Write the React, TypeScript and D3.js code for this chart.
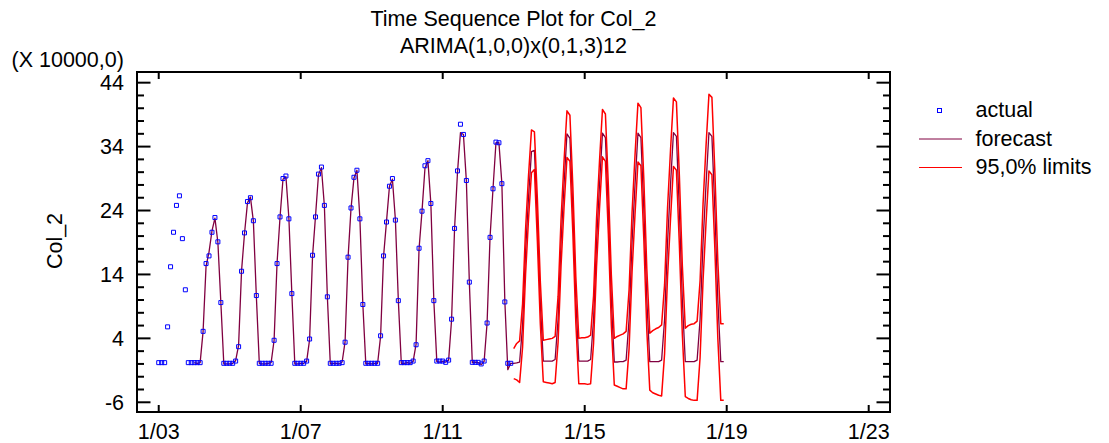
import React from 'react';
import * as d3 from 'd3';

// ---- page / frame geometry ----
const WIDTH = 1109;
const HEIGHT = 443;
const FONT = '"Liberation Sans", Arial, Helvetica, sans-serif';
const FONT_SIZE = 21.5;
const frame = { left: 137, right: 890, top: 72, bottom: 412 };

// ---- data (Col_2, monthly, in units of 10000) ----
const FIRST_YEAR = 2003;
const FITTED_START = 12; // month index of first fitted value (Jan 2004)
const FORECAST_START = 120; // month index of first forecast (Jan 2013)

// observed values, Jan 2003 - Dec 2012
const actualValues = [
  0.2, 0.2, 0.2, 5.8, 15.2, 20.6, 24.8, 26.3, 19.6, 11.6, 0.2, 0.2,
  0.2, 0.2, 0.2, 5.1, 15.7, 16.9, 20.6, 22.9, 19.1, 9.6, 0.1, 0.1,
  0.1, 0.1, 0.45, 2.7, 14.5, 20.5, 25.4, 26.0, 22.4, 10.7, 0.1, 0.1,
  0.1, 0.1, 0.1, 3.7, 15.7, 23.0, 29.0, 29.4, 22.7, 11.0, 0.1, 0.1,
  0.1, 0.1, 0.45, 3.9, 17.0, 23.0, 29.7, 30.8, 24.8, 10.5, 0.1, 0.1,
  0.1, 0.1, 0.2, 3.4, 16.7, 24.4, 29.2, 30.3, 22.7, 9.3, 0.1, 0.1,
  0.1, 0.1, 0.1, 4.4, 16.9, 22.2, 27.8, 29.0, 22.5, 9.9, 0.2, 0.2,
  0.2, 0.2, 0.45, 3.0, 18.1, 23.9, 31.0, 31.8, 25.1, 9.9, 0.45, 0.45,
  0.45, 0.25, 0.6, 7.0, 21.2, 30.2, 37.5, 35.9, 28.7, 12.8, 0.25, 0.25,
  0.25, 0.0, 0.45, 6.4, 19.8, 27.4, 34.7, 34.6, 28.2, 9.7, 0.1, 0.1,
];

// one-step-ahead fitted values, Jan 2004 - Dec 2012
const fittedValues = [
  0.2, 0.1, 0.2, 5.1, 15.3, 17.5, 20.8, 22.8, 19.0, 9.6, 0.0, 0.0,
  0.0, 0.1, 0.5, 2.9, 14.6, 20.4, 25.2, 26.1, 22.3, 10.6, 0.1, 0.0,
  0.0, 0.1, 0.2, 3.7, 15.8, 22.9, 28.9, 29.3, 22.8, 11.0, 0.0, 0.0,
  0.1, 0.1, 0.4, 3.8, 16.9, 23.1, 29.6, 30.7, 24.7, 10.6, 0.0, 0.1,
  0.1, 0.0, 0.3, 3.5, 16.6, 24.3, 29.1, 30.3, 22.8, 9.3, 0.0, 0.1,
  0.0, 0.1, 0.1, 4.3, 16.8, 22.3, 27.8, 28.9, 22.6, 9.9, 0.1, 0.1,
  0.2, 0.1, 0.4, 3.1, 18.0, 23.9, 30.6, 31.8, 25.0, 9.9, 0.4, 0.3,
  0.4, 0.3, 0.6, 6.9, 21.1, 30.0, 36.2, 35.9, 28.6, 12.8, 0.2, 0.3,
  0.2, -0.1, 0.4, 6.4, 19.8, 27.4, 34.6, 34.6, 28.2, 9.8, -0.9, 0.1,
];

// forecasts, Jan 2013 - Dec 2018
const forecastValues = [
  0.1, 0.15, 0.3, 6.0, 17.5, 26.0, 33.2, 33.4, 22.5, 9.5, 0.45, 0.45,
  0.45, 0.45, 0.7, 7.0, 19.0, 28.0, 36.0, 35.3, 24.0, 10.0, 0.45, 0.45,
  0.45, 0.45, 0.7, 7.0, 19.0, 28.0, 36.1, 35.4, 24.0, 10.0, 0.3, 0.3,
  0.35, 0.35, 0.6, 7.0, 19.0, 28.0, 36.1, 35.4, 24.0, 10.0, 0.35, 0.35,
  0.35, 0.35, 0.6, 7.0, 19.0, 28.0, 36.2, 35.6, 24.0, 10.0, 0.35, 0.35,
  0.35, 0.35, 0.6, 7.0, 19.0, 28.0, 36.2, 35.6, 24.0, 10.0, 0.35, 0.35,
];

// upper 95% limits
const upperLimits = [
  2.4, 3.2, 3.6, 9.4, 21.0, 29.4, 36.6, 36.3, 25.8, 12.8, 3.7, 3.8,
  3.9, 4.0, 4.3, 10.6, 22.6, 31.6, 39.6, 38.9, 27.6, 13.6, 4.0, 4.1,
  4.1, 4.2, 4.5, 10.7, 22.7, 31.7, 39.8, 39.1, 27.8, 13.9, 4.0, 4.3,
  4.5, 4.7, 5.1, 11.6, 23.6, 32.6, 40.8, 40.1, 28.7, 14.8, 4.8, 5.2,
  5.5, 5.7, 6.1, 12.4, 24.4, 33.4, 41.6, 41.0, 29.4, 15.4, 5.6, 6.0,
  6.2, 6.3, 6.7, 13.0, 25.0, 34.0, 42.2, 41.7, 30.0, 16.0, 6.3, 6.3,
];

// lower 95% limits
const lowerLimits = [
  -2.3, -2.5, -2.9, 2.6, 14.0, 22.6, 29.9, 30.4, 19.2, 6.2, -2.8, -2.9,
  -3.0, -3.1, -2.9, 3.4, 15.4, 24.4, 32.3, 31.7, 20.4, 6.4, -3.1, -3.1,
  -3.1, -3.2, -3.1, 3.3, 15.3, 24.3, 32.4, 31.7, 20.2, 6.1, -3.3, -3.5,
  -3.7, -3.9, -3.9, 2.4, 14.4, 23.4, 31.6, 31.0, 19.3, 5.2, -4.1, -4.5,
  -4.7, -4.9, -5.0, 1.6, 13.6, 22.6, 30.9, 30.3, 18.6, 4.6, -5.1, -5.4,
  -5.6, -5.7, -5.7, 1.0, 13.0, 22.0, 30.2, 29.6, 18.0, 4.0, -5.7, -5.7,
];

// axis ticks
const xTickYears = [2003, 2007, 2011, 2015, 2019, 2023];
const xTickLabels = ['1/03', '1/07', '1/11', '1/15', '1/19', '1/23'];
const yMajorTicks = [-6, 4, 14, 24, 34, 44];

// legend entries
const legendLabels = ['actual', 'forecast', '95,0% limits'];

const FORECAST_COLOR = '#800040';
const LIMIT_COLOR = '#ff0000';
const ACTUAL_COLOR = '#0000ff';

type Pt = { t: number; v: number };

const toPoints = (values: number[], start: number): Pt[] =>
  values.map((v, i) => ({ t: start + i, v }));

export default function App() {
  // month index -> decimal year
  const yearOf = (t: number) => FIRST_YEAR + t / 12;

  const x = d3.scaleLinear().domain([2002.388, 2023.6]).range([frame.left, frame.right]);
  const y = d3.scaleLinear().domain([-7.52, 45.67]).range([frame.bottom, frame.top]);

  const line = d3
    .line<Pt>()
    .x((d) => x(yearOf(d.t)))
    .y((d) => y(d.v));

  // fitted + forecast are one continuous series
  const forecastPath = line([
    ...toPoints(fittedValues, FITTED_START),
    ...toPoints(forecastValues, FORECAST_START),
  ]);
  const upperPath = line(toPoints(upperLimits, FORECAST_START));
  const lowerPath = line(toPoints(lowerLimits, FORECAST_START));
  const actualPts = toPoints(actualValues, 0);

  const yMinorTicks = d3.range(-6, 45, 2).filter((v) => !yMajorTicks.includes(v));

  const textStyle = { fontFamily: FONT, fontSize: FONT_SIZE, fill: '#000' };
  const cx = (frame.left + frame.right) / 2;

  return (
    <svg
      width={WIDTH}
      height={HEIGHT}
      style={{ position: 'absolute', left: 0, top: 0, background: '#fff' }}
    >
      {/* titles */}
      <text x={cx} y={26} textAnchor="middle" style={textStyle}>
        Time Sequence Plot for Col_2
      </text>
      <text x={cx} y={53} textAnchor="middle" style={textStyle}>
        ARIMA(1,0,0)x(0,1,3)12
      </text>
      <text x={11.5} y={67} style={textStyle}>
        (X 10000,0)
      </text>
      <text
        transform={`translate(61.5, 241) rotate(-90)`}
        textAnchor="middle"
        style={textStyle}
      >
        Col_2
      </text>

      {/* series */}
      <g fill="none" strokeLinejoin="round">
        <path d={forecastPath ?? ''} stroke={FORECAST_COLOR} strokeWidth={1.3} />
        <path d={upperPath ?? ''} stroke={LIMIT_COLOR} strokeWidth={1.5} />
        <path d={lowerPath ?? ''} stroke={LIMIT_COLOR} strokeWidth={1.5} />
        {actualPts.map((d) => (
          <rect
            key={d.t}
            x={x(yearOf(d.t)) - 2}
            y={y(d.v) - 2}
            width={4}
            height={4}
            stroke={ACTUAL_COLOR}
            strokeWidth={1}
          />
        ))}
      </g>

      {/* frame */}
      <rect
        x={frame.left}
        y={frame.top}
        width={frame.right - frame.left}
        height={frame.bottom - frame.top}
        fill="none"
        stroke="#000"
        strokeWidth={2}
      />

      {/* y ticks, both sides */}
      <g stroke="#000" strokeWidth={2}>
        {yMajorTicks.map((v) => (
          <g key={`ym${v}`}>
            <line x1={frame.left} x2={frame.left + 13.5} y1={y(v)} y2={y(v)} />
            <line x1={frame.right} x2={frame.right - 13.5} y1={y(v)} y2={y(v)} />
          </g>
        ))}
        {yMinorTicks.map((v) => (
          <g key={`yn${v}`}>
            <line x1={frame.left} x2={frame.left + 7} y1={y(v)} y2={y(v)} />
            <line x1={frame.right} x2={frame.right - 7} y1={y(v)} y2={y(v)} />
          </g>
        ))}
        {/* x ticks, top and bottom */}
        {xTickYears.map((yr) => (
          <g key={`x${yr}`}>
            <line x1={x(yr)} x2={x(yr)} y1={frame.bottom} y2={frame.bottom - 7} />
            <line x1={x(yr)} x2={x(yr)} y1={frame.top} y2={frame.top + 7} />
          </g>
        ))}
      </g>

      {/* tick labels */}
      {yMajorTicks.map((v) => (
        <text key={`yl${v}`} x={124} y={y(v)} dy="0.36em" textAnchor="end" style={textStyle}>
          {v}
        </text>
      ))}
      {xTickYears.map((yr, i) => (
        <text key={`xl${yr}`} x={x(yr)} y={439} textAnchor="middle" style={textStyle}>
          {xTickLabels[i]}
        </text>
      ))}

      {/* legend */}
      <rect
        x={937.5}
        y={108.5}
        width={4}
        height={4}
        fill="none"
        stroke={ACTUAL_COLOR}
        strokeWidth={1}
      />
      <line x1={919} x2={962} y1={139} y2={139} stroke={FORECAST_COLOR} strokeWidth={1} />
      <line x1={919} x2={962} y1={167.5} y2={167.5} stroke={LIMIT_COLOR} strokeWidth={1} />
      {legendLabels.map((label, i) => (
        <text key={label} x={975.5} y={117 + i * 28.5} style={textStyle}>
          {label}
        </text>
      ))}
    </svg>
  );
}
